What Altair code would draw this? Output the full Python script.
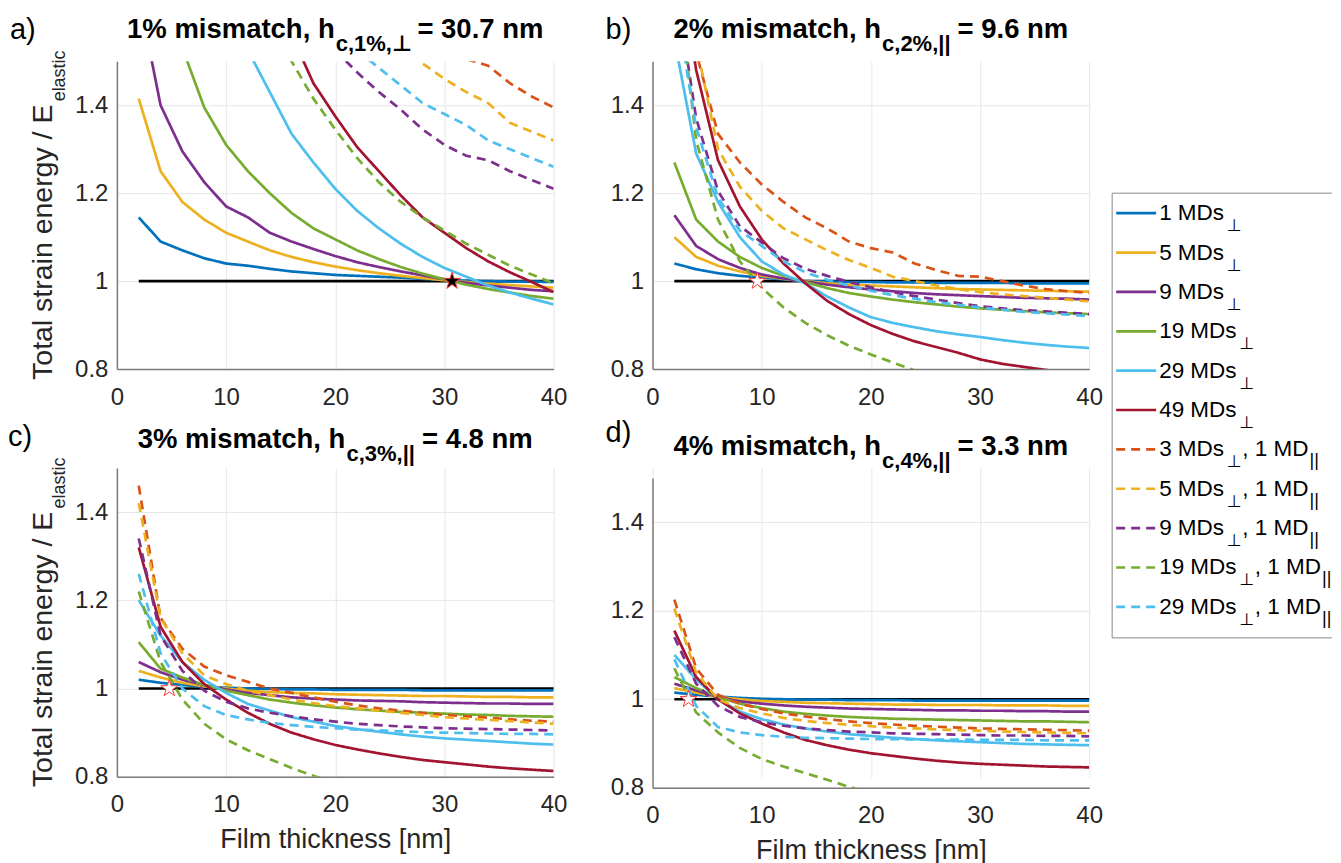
import altair as alt
import pandas as pd

FONT = "Liberation Sans, Arial, Helvetica, DejaVu Sans, sans-serif"

X = list(range(2, 41, 2))
SERIES = ["1 MDs⊥", "5 MDs⊥", "9 MDs⊥", "19 MDs⊥", "29 MDs⊥", "49 MDs⊥",
          "3 MDs⊥, 1 MD||", "5 MDs⊥, 1 MD||", "9 MDs⊥, 1 MD||",
          "19 MDs⊥, 1 MD||", "29 MDs⊥, 1 MD||"]
COLORS = ["#0072BD", "#EDB120", "#7E2F8E", "#77AC30", "#4DBEEE", "#A2142F",
          "#D95319", "#EDB120", "#7E2F8E", "#77AC30", "#4DBEEE"]
DASHES = [[1, 0]] * 6 + [[9, 6]] * 5
N_PERP = [1, 5, 9, 19, 29, 49, 3, 5, 9, 19, 29]
HAS_PAR = [False] * 6 + [True] * 5

MISMATCH = ["1%", "2%", "3%", "4%"]
HC = [30.7, 9.6, 4.8, 3.3]
HC_SUB = ["⊥", "||", "||", "||"]
PANEL_LABELS = ["a)", "b)", "c)", "d)"]
N = None

PANEL_A = {
    "1 MDs⊥": [1.145, 1.09, 1.07, 1.052, 1.04, 1.035, 1.028, 1.022, 1.018, 1.014, 1.012, 1.01, 1.008, 1.005, 1.003, 1.001, 1.0, 0.999, 0.999, 0.998],
    "5 MDs⊥": [1.415, 1.25, 1.18, 1.14, 1.11, 1.09, 1.07, 1.055, 1.043, 1.033, 1.025, 1.018, 1.012, 1.007, 1.002, 0.998, 0.994, 0.991, 0.988, 0.985],
    "9 MDs⊥": [1.65, 1.40, 1.295, 1.225, 1.17, 1.145, 1.11, 1.09, 1.073, 1.057, 1.043, 1.032, 1.022, 1.013, 1.004, 0.996, 0.99, 0.985, 0.98, 0.977],
    "19 MDs⊥": [N, 1.68, 1.53, 1.395, 1.31, 1.25, 1.2, 1.155, 1.12, 1.095, 1.07, 1.05, 1.032, 1.017, 1.004, 0.992, 0.982, 0.974, 0.966, 0.96],
    "29 MDs⊥": [N, N, N, N, 1.62, 1.525, 1.43, 1.335, 1.27, 1.21, 1.16, 1.12, 1.085, 1.055, 1.03, 1.01, 0.99, 0.974, 0.96, 0.947],
    "49 MDs⊥": [N, N, N, N, N, N, N, 1.56, 1.45, 1.375, 1.305, 1.25, 1.195, 1.145, 1.11, 1.075, 1.045, 1.02, 0.998, 0.975],
    "3 MDs⊥, 1 MD||": [N, N, N, N, N, N, N, N, N, N, N, N, N, N, 1.55, 1.505, 1.49, 1.45, 1.42, 1.395],
    "5 MDs⊥, 1 MD||": [N, N, N, N, N, N, N, N, N, N, N, N, 1.54, 1.495, 1.46, 1.43, 1.405, 1.36, 1.34, 1.32],
    "9 MDs⊥, 1 MD||": [N, N, N, N, N, N, N, N, N, 1.525, 1.475, 1.43, 1.39, 1.345, 1.31, 1.285, 1.275, 1.25, 1.23, 1.21],
    "19 MDs⊥, 1 MD||": [N, N, N, N, N, N, 1.6, 1.5, 1.415, 1.345, 1.28, 1.225, 1.18, 1.145, 1.115, 1.085, 1.06, 1.035, 1.015, 0.995],
    "29 MDs⊥, 1 MD||": [N, N, N, N, N, N, N, N, N, N, 1.525, 1.485, 1.445, 1.405, 1.38, 1.355, 1.32, 1.3, 1.28, 1.26],
}
PANEL_B = {
    "1 MDs⊥": [1.04, 1.027, 1.018, 1.012, 1.008, 1.004, 1.0, 0.999, 0.998, 0.998, 0.997, 0.997, 0.996, 0.996, 0.996, 0.996, 0.995, 0.995, 0.995, 0.995],
    "5 MDs⊥": [1.10, 1.055, 1.035, 1.022, 1.012, 1.005, 1.0, 0.995, 0.992, 0.99, 0.988, 0.986, 0.984, 0.982, 0.981, 0.98, 0.979, 0.978, 0.977, 0.976],
    "9 MDs⊥": [1.15, 1.08, 1.05, 1.03, 1.015, 1.006, 0.999, 0.992, 0.986, 0.981, 0.977, 0.973, 0.97, 0.968, 0.966, 0.964, 0.962, 0.961, 0.96, 0.958],
    "19 MDs⊥": [1.27, 1.14, 1.09, 1.055, 1.03, 1.012, 0.998, 0.984, 0.973, 0.965, 0.958, 0.952, 0.947, 0.942, 0.938, 0.935, 0.932, 0.929, 0.927, 0.925],
    "29 MDs⊥": [1.55, 1.29, 1.18, 1.1, 1.045, 1.015, 0.995, 0.965, 0.94, 0.918, 0.905, 0.895, 0.886, 0.879, 0.873, 0.866, 0.86, 0.855, 0.851, 0.848],
    "49 MDs⊥": [1.8, 1.48, 1.275, 1.17, 1.095, 1.04, 0.995, 0.955, 0.925, 0.9, 0.88, 0.863, 0.85, 0.837, 0.822, 0.812, 0.805, 0.798, 0.792, 0.787],
    "3 MDs⊥, 1 MD||": [1.7, 1.52, 1.335, 1.27, 1.22, 1.18, 1.145, 1.12, 1.09, 1.075, 1.065, 1.04, 1.025, 1.012, 1.01, 1.0, 0.99, 0.982, 0.977, 0.973],
    "5 MDs⊥, 1 MD||": [1.75, 1.54, 1.3, 1.215, 1.16, 1.12, 1.095, 1.07, 1.048, 1.03, 1.01, 1.0, 0.99, 0.982, 0.975, 0.97, 0.966, 0.962, 0.958, 0.954],
    "9 MDs⊥, 1 MD||": [1.7, 1.37, 1.205, 1.125, 1.088, 1.052, 1.028, 1.012, 0.998, 0.986, 0.975, 0.966, 0.958, 0.95, 0.943, 0.938, 0.934, 0.931, 0.928, 0.925],
    "19 MDs⊥, 1 MD||": [1.75, 1.32, 1.14, 1.045, 0.985, 0.94, 0.905, 0.877, 0.853, 0.833, 0.815, 0.797, 0.78, N, N, N, N, N, N, N],
    "29 MDs⊥, 1 MD||": [1.65, 1.35, 1.19, 1.115, 1.08, 1.045, 1.02, 1.003, 0.99, 0.978, 0.968, 0.96, 0.952, 0.946, 0.94, 0.935, 0.93, 0.927, 0.924, 0.92],
}
PANEL_C = {
    "1 MDs⊥": [1.02, 1.013, 1.008, 1.004, 1.002, 1.0, 0.999, 0.998, 0.998, 0.997, 0.997, 0.997, 0.997, 0.996, 0.996, 0.996, 0.996, 0.996, 0.996, 0.996],
    "5 MDs⊥": [1.04, 1.025, 1.013, 1.005, 1.0, 0.995, 0.992, 0.99, 0.989, 0.987, 0.986, 0.985, 0.984, 0.983, 0.983, 0.982, 0.981, 0.981, 0.98, 0.98],
    "9 MDs⊥": [1.06, 1.037, 1.02, 1.008, 0.998, 0.99, 0.985, 0.98, 0.977, 0.975, 0.973, 0.972, 0.971, 0.969, 0.968, 0.967, 0.966, 0.966, 0.965, 0.965],
    "19 MDs⊥": [1.105, 1.045, 1.025, 1.008, 0.995, 0.985, 0.975, 0.968, 0.962, 0.957, 0.953, 0.95, 0.947, 0.945, 0.943, 0.941, 0.94, 0.938, 0.937, 0.936],
    "29 MDs⊥": [1.2, 1.12, 1.06, 1.02, 0.99, 0.965, 0.95, 0.935, 0.925, 0.915, 0.908, 0.902, 0.896, 0.891, 0.887, 0.884, 0.881, 0.878, 0.875, 0.873],
    "49 MDs⊥": [1.32, 1.14, 1.06, 1.01, 0.975, 0.945, 0.92, 0.9, 0.885, 0.872, 0.862, 0.853, 0.845, 0.838, 0.833, 0.828, 0.823, 0.819, 0.816, 0.813],
    "3 MDs⊥, 1 MD||": [1.46, 1.16, 1.09, 1.05, 1.03, 1.015, 1.0, 0.99, 0.98, 0.97, 0.962, 0.955, 0.95, 0.945, 0.94, 0.937, 0.934, 0.93, 0.927, 0.925],
    "5 MDs⊥, 1 MD||": [1.42, 1.16, 1.08, 1.03, 1.01, 0.995, 0.985, 0.975, 0.967, 0.96, 0.955, 0.95, 0.945, 0.94, 0.935, 0.932, 0.929, 0.926, 0.923, 0.92],
    "9 MDs⊥, 1 MD||": [1.34, 1.12, 1.04, 0.995, 0.97, 0.955, 0.945, 0.937, 0.93, 0.925, 0.92, 0.917, 0.914, 0.912, 0.91, 0.909, 0.908, 0.907, 0.906, 0.905],
    "19 MDs⊥, 1 MD||": [1.22, 1.06, 0.975, 0.92, 0.885, 0.86, 0.84, 0.82, 0.802, 0.785, N, N, N, N, N, N, N, N, N, N],
    "29 MDs⊥, 1 MD||": [1.26, 1.08, 1.0, 0.96, 0.94, 0.93, 0.922, 0.917, 0.913, 0.91, 0.907, 0.905, 0.903, 0.901, 0.9, 0.899, 0.898, 0.897, 0.897, 0.896],
}
PANEL_D = {
    "1 MDs⊥": [1.015, 1.01, 1.006, 1.003, 1.001, 1.0, 0.999, 0.999, 0.998, 0.998, 0.998, 0.997, 0.997, 0.997, 0.997, 0.997, 0.997, 0.997, 0.997, 0.997],
    "5 MDs⊥": [1.025, 1.015, 1.005, 1.0, 0.996, 0.994, 0.992, 0.991, 0.99, 0.989, 0.988, 0.988, 0.987, 0.987, 0.987, 0.986, 0.986, 0.986, 0.985, 0.985],
    "9 MDs⊥": [1.035, 1.02, 1.005, 0.995, 0.99, 0.986, 0.983, 0.981, 0.979, 0.978, 0.977, 0.976, 0.975, 0.975, 0.974, 0.974, 0.973, 0.973, 0.972, 0.972],
    "19 MDs⊥": [1.05, 1.025, 1.005, 0.99, 0.98, 0.972, 0.967, 0.963, 0.96, 0.958, 0.956, 0.955, 0.954, 0.953, 0.952, 0.951, 0.95, 0.95, 0.949, 0.948],
    "29 MDs⊥": [1.1, 1.045, 1.0, 0.972, 0.955, 0.943, 0.934, 0.927, 0.921, 0.917, 0.913, 0.91, 0.907, 0.905, 0.903, 0.901, 0.899, 0.898, 0.897, 0.896],
    "49 MDs⊥": [1.155, 1.05, 1.0, 0.968, 0.945, 0.925, 0.908, 0.896, 0.886, 0.878, 0.872, 0.866, 0.861, 0.857, 0.854, 0.852, 0.85, 0.848, 0.847, 0.846],
    "3 MDs⊥, 1 MD||": [1.225, 1.07, 1.01, 0.99, 0.978, 0.968, 0.961, 0.955, 0.95, 0.946, 0.943, 0.94, 0.938, 0.936, 0.934, 0.933, 0.932, 0.931, 0.93, 0.929],
    "5 MDs⊥, 1 MD||": [1.205, 1.06, 1.0, 0.98, 0.968, 0.958, 0.951, 0.946, 0.942, 0.939, 0.936, 0.934, 0.932, 0.93, 0.929, 0.927, 0.926, 0.925, 0.924, 0.923],
    "9 MDs⊥, 1 MD||": [1.14, 1.035, 0.985, 0.96, 0.948, 0.94, 0.934, 0.93, 0.927, 0.925, 0.923, 0.922, 0.921, 0.92, 0.919, 0.918, 0.918, 0.917, 0.917, 0.916],
    "19 MDs⊥, 1 MD||": [1.07, 0.97, 0.925, 0.89, 0.865, 0.848, 0.833, 0.818, 0.802, 0.788, N, N, N, N, N, N, N, N, N, N],
    "29 MDs⊥, 1 MD||": [1.09, 0.985, 0.937, 0.925, 0.919, 0.915, 0.913, 0.912, 0.911, 0.91, 0.91, 0.909, 0.909, 0.909, 0.908, 0.908, 0.908, 0.907, 0.907, 0.907],
}
PANELS = [PANEL_A, PANEL_B, PANEL_C, PANEL_D]

# ---------- text width helper (Arial / Liberation Sans metrics) ----------
REG = {' ': .278, '%': .889, ')': .333, '(': .333, ',': .278, '.': .278, '/': .278, '=': .584,
       '[': .278, ']': .278, '|': .26, 'D': .722, 'E': .667, 'F': .611, 'M': .833, 'T': .611,
       'a': .556, 'b': .556, 'c': .5, 'd': .556, 'e': .556, 'g': .556, 'h': .556, 'i': .222,
       'k': .5, 'l': .222, 'm': .833, 'n': .556, 'o': .556, 'r': .333, 's': .5, 't': .278,
       'y': .5, '⊥': .84}
BOLD = {' ': .278, '%': .889, ',': .278, '.': .278, '=': .584, '|': .28, 'a': .556, 'c': .556,
        'h': .611, 'i': .278, 'm': .889, 'n': .611, 's': .556, 't': .333, '⊥': .84}


def tw(s, size, bold=False):
    tab = BOLD if bold else REG
    return sum(tab.get(ch, .556) for ch in s) * size


def text_layer(t, px, py, size, bold=False, angle=None, color="#000000"):
    mk = dict(align="left", baseline="alphabetic", fontSize=size, font=FONT,
              fontWeight="bold" if bold else "normal", color=color)
    if angle is not None:
        mk["angle"] = angle
    return alt.Chart(pd.DataFrame({"t": [t]})).mark_text(**mk).encode(
        text="t:N", x=alt.value(px), y=alt.value(py))


def run_layers(segs, cx, by, angle=None, color="#000000"):
    # segs: (text, size, bold, shift, gap_before)
    total = sum(tw(t, s, b) + g for t, s, b, sh, g in segs)
    cur = -total / 2
    out = []
    for t, s, b, sh, g in segs:
        cur += g
        if angle is None:
            out.append(text_layer(t, cx + cur, by + sh, s, b, color=color))
        else:
            out.append(text_layer(t, cx + sh, by - cur, s, b, angle=angle, color=color))
        cur += tw(t, s, b)
    return out


# ---------- data table ----------
rows = []
for key, pdata in zip("abcd", PANELS):
    for s in SERIES:
        for x, v in zip(X, pdata[s]):
            if v is not None:
                rows.append({"panel": key, "series": s, "x": x, "y": v})
df = pd.DataFrame(rows)

STAR = ("M0,-1L0.2245,-0.309L0.951,-0.309L0.363,0.118L0.588,0.809L0,0.382"
        "L-0.588,0.809L-0.363,0.118L-0.951,-0.309L-0.2245,-0.309Z")

W = 437
LW = 2.7
LAYOUT = {
    "a": dict(height=308, yrange=None, lab=(-107, -22), ttl=-23, ytitle=True, xtitle=False),
    "b": dict(height=308, yrange=None, lab=(-47, -22), ttl=-23, ytitle=False, xtitle=False),
    "c": dict(height=309, yrange=None, lab=(-109, -22), ttl=-20, ytitle=True, xtitle=True),
    "d": dict(height=320, yrange=[320, 10], lab=(-47, -26), ttl=-13, ytitle=False, xtitle=True),
}

color_scale = alt.Scale(domain=SERIES, range=COLORS)
dash_scale = alt.Scale(domain=SERIES, range=DASHES)


def make_panel(i, key):
    L = LAYOUT[key]
    sub = df[df.panel == key]
    yscale = dict(domain=[0.8, 1.5], nice=False, zero=False)
    if L["yrange"]:
        yscale["range"] = L["yrange"]
    xenc = alt.X("x:Q", scale=alt.Scale(domain=[0, 40], nice=False),
                 axis=alt.Axis(values=[0, 10, 20, 30, 40], format="d", labelFlush=False,
                               title="Film thickness [nm]" if L["xtitle"] else None))
    yenc = alt.Y("y:Q", scale=alt.Scale(**yscale),
                 axis=alt.Axis(values=[0.8, 1, 1.2, 1.4], format="~g", labelFlush=False,
                               title=None))
    ref = alt.Chart(pd.DataFrame({"x": [2, 40], "y": [1, 1]})).mark_line(
        color="#000000", strokeWidth=LW).encode(x=xenc, y=yenc)
    lines = alt.Chart(sub).mark_line(clip=True, strokeWidth=LW).encode(
        x="x:Q", y="y:Q",
        color=alt.Color("series:N", scale=color_scale, legend=None),
        strokeDash=alt.StrokeDash("series:N", scale=dash_scale, legend=None))
    star_fill = "#000000" if i == 0 else "#ffffff"
    star = alt.Chart(pd.DataFrame({"x": [HC[i]], "y": [1.0]})).mark_point(
        shape=STAR, size=320, filled=True, fill=star_fill, stroke="#ff3b3b",
        strokeWidth=1, opacity=1).encode(x="x:Q", y="y:Q")
    layers = [ref, lines, star]
    # panel label
    layers.append(text_layer(PANEL_LABELS[i], L["lab"][0], L["lab"][1], 29))
    # title with subscript
    segs = [(f"{MISMATCH[i]} mismatch, h", 27.5, True, 0, 0),
            (f"c,{MISMATCH[i]},{HC_SUB[i]}", 22, True, 13, 1),
            (f"= {HC[i]} nm", 27.5, True, 0, 7)]
    layers += run_layers(segs, W / 2, L["ttl"])
    if L["ytitle"]:
        ysegs = [("Total strain energy / E", 28.5, False, 0, 0),
                 ("elastic", 18, False, 13, 0)]
        layers += run_layers(ysegs, -64.5, L["height"] / 2, angle=270, color="#262626")
    return alt.layer(*layers).properties(width=W, height=L["height"])


panels = [make_panel(i, k) for i, k in enumerate("abcd")]

# ---------- custom legend ----------
MAIN_X = -29
leg_rows = []
for idx, (s, n, par) in enumerate(zip(SERIES, N_PERP, HAS_PAR)):
    main = f"{n} MDs"
    sub1_x = MAIN_X + tw(main, 22.5) + 3
    mid_x = sub1_x + tw("⊥", 17) + 1
    sub2_x = mid_x + tw(", 1 MD", 22.5) + 1
    leg_rows.append({"idx": idx, "series": s, "main": main, "sub1": "⊥",
                     "mid": ", 1 MD" if par else "", "sub2": "||" if par else "",
                     "sub1_x": sub1_x, "mid_x": mid_x, "sub2_x": sub2_x, "par": par})
leg_df = pd.DataFrame(leg_rows)
leg_par = leg_df[leg_df.par]

ly = alt.Y("idx:Q", scale=alt.Scale(domain=[0, 10], range=[152, 546]), axis=None)
box_top = alt.Chart(pd.DataFrame({"a": [0]})).mark_rule(color="#8a8a8a", strokeWidth=1).encode(
    x=alt.value(-76), x2=alt.value(144), y=alt.value(132))
box_bot = alt.Chart(pd.DataFrame({"a": [0]})).mark_rule(color="#8a8a8a", strokeWidth=1).encode(
    x=alt.value(-76), x2=alt.value(144), y=alt.value(577))
box_left = alt.Chart(pd.DataFrame({"a": [0]})).mark_rule(color="#8a8a8a", strokeWidth=1).encode(
    x=alt.value(-76), y=alt.value(132), y2=alt.value(577))
samples = alt.Chart(leg_df).mark_rule(strokeWidth=LW).encode(
    y=ly, x=alt.value(-72), x2=alt.value(-32),
    color=alt.Color("series:N", scale=color_scale, legend=None),
    strokeDash=alt.StrokeDash("series:N", scale=dash_scale, legend=None))
t_main = alt.Chart(leg_df).mark_text(align="left", baseline="middle", fontSize=22.5, font=FONT,
                                     color="#000000").encode(
    y=ly, x=alt.value(MAIN_X), text="main:N")
t_sub1 = alt.Chart(leg_df).mark_text(align="left", baseline="alphabetic", fontSize=17, font=FONT,
                                     dy=18, color="#000000").encode(
    y=ly, x=alt.X("sub1_x:Q", scale=None), text="sub1:N")
t_mid = alt.Chart(leg_par).mark_text(align="left", baseline="middle", fontSize=22.5, font=FONT,
                                     color="#000000").encode(
    y=ly, x=alt.X("mid_x:Q", scale=None), text="mid:N")
t_sub2 = alt.Chart(leg_par).mark_text(align="left", baseline="alphabetic", fontSize=18, font=FONT,
                                      dy=17, color="#000000").encode(
    y=ly, x=alt.X("sub2_x:Q", scale=None), text="sub2:N")
legend = alt.layer(box_top, box_bot, box_left, samples, t_main, t_sub1, t_mid, t_sub2).properties(
    width=130, height=308)

chart = alt.concat(panels[0], panels[1], legend, panels[2], panels[3],
                   columns=3, spacing=99, bounds="flush", align="each").properties(
    padding={"left": 0, "top": 8, "right": 0, "bottom": 0}
).configure_view(stroke=None).configure_axis(
    domainColor="#7a7a7a", domainWidth=1.5, gridColor="#e6e6e6", gridWidth=1,
    ticks=False, tickSize=0, labelFont=FONT, labelFontSize=24, labelColor="#262626",
    titleFont=FONT, titleFontSize=27, titleColor="#262626", titleFontWeight="normal"
).configure_axisX(labelPadding=16, titlePadding=10).configure_axisY(labelPadding=9)

chart.save("out.html", embed_options={"renderer": "svg", "actions": False})
